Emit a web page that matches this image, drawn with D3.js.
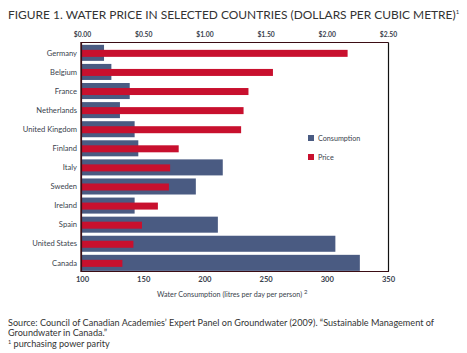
<!DOCTYPE html>
<html>
<head>
<meta charset="utf-8">
<script src="https://cdn.jsdelivr.net/npm/d3@7"></script>
<style>
  body { margin: 0; background: #fff; }
  svg { display: block; font-family: Lato, "Open Sans", sans-serif; }
</style>
</head>
<body>
<svg id="chart" width="467" height="353"></svg>
<script>
const countries = ["Germany", "Belgium", "France", "Netherlands", "United Kingdom", "Finland",
   "Italy", "Sweden", "Ireland", "Spain", "United States", "Canada"];
// litres per day per person
const consumption = [118, 124, 139, 131, 143, 146, 215, 193, 143, 211, 307, 327];
// dollars per cubic metre (PPP)
const price = [2.17, 1.56, 1.36, 1.32, 1.30, 0.79, 0.72, 0.71, 0.62, 0.49, 0.42, 0.33];
const priceTicks = [0, 0.5, 1, 1.5, 2, 2.5];
const consTicks = [100, 150, 200, 250, 300, 350];

const blue = "#4a5b82", red = "#c8102e", textCol = "#3a3f4d";
const plotL = 82, plotR = 388, plotT = 43, plotB = 271;

const svg = d3.select("#chart");

const x = d3.scaleLinear().domain([100, 350]).range([plotL, plotR]);
const xp = d3.scaleLinear().domain([0, 2.5]).range([plotL, plotR]);
const y = d3.scaleBand().domain(countries).range([43.3, 272.4])
   .paddingInner(0.16).paddingOuter(0.08);

// title
svg.append("text")
   .attr("x", 8).attr("y", 19)
   .attr("font-size", 11.95).attr("fill", "#333")
   .text("FIGURE 1. WATER PRICE IN SELECTED COUNTRIES (DOLLARS PER CUBIC METRE)")
   .append("tspan").attr("font-size", 6).attr("dy", -5).text("1");

// consumption bars
svg.append("g").selectAll("rect")
   .data(countries)
   .join("rect")
   .attr("x", plotL)
   .attr("y", d => y(d))
   .attr("width", (d, i) => x(consumption[i]) - plotL)
   .attr("height", y.bandwidth())
   .attr("fill", blue);

// price bars
const ph = 7;
svg.append("g").selectAll("rect")
   .data(countries)
   .join("rect")
   .attr("x", plotL)
   .attr("y", d => y(d) + y.bandwidth() / 2 - ph / 2 + 0.5)
   .attr("width", (d, i) => xp(price[i]) - plotL)
   .attr("height", ph)
   .attr("fill", red);

// frame
svg.append("line").attr("x1", 81.5).attr("x2", 388.5).attr("y1", plotT - 0.5).attr("y2", plotT - 0.5)
   .attr("stroke", "#3b0d14").attr("stroke-width", 1);
svg.append("line").attr("x1", 388.5).attr("x2", 388.5).attr("y1", plotT - 0.5).attr("y2", plotB + 0.5)
   .attr("stroke", "#111").attr("stroke-width", 1.2);
svg.append("line").attr("x1", 81).attr("x2", 389).attr("y1", plotB + 0.5).attr("y2", plotB + 0.5)
   .attr("stroke", "#3b0d14").attr("stroke-width", 1);
svg.append("line").attr("x1", 81.2).attr("x2", 81.2).attr("y1", plotT - 1).attr("y2", plotB + 1)
   .attr("stroke", "#3b0d14").attr("stroke-width", 1.8);

// country labels
svg.append("g").selectAll("text")
   .data(countries)
   .join("text")
   .attr("x", 77)
   .attr("y", d => y(d) + y.bandwidth() / 2)
   .attr("dy", "0.35em")
   .attr("text-anchor", "end")
   .attr("font-size", 7.6)
   .attr("fill", textCol)
   .text(d => d);

// top axis (price)
const topAxis = svg.append("g")
   .attr("transform", `translate(0,${plotT - 3.5})`)
   .call(d3.axisTop(xp).tickValues(priceTicks).tickSize(0).tickFormat(d3.format("$.2f")));
topAxis.select(".domain").remove();
topAxis.selectAll("text")
   .attr("font-size", 6.8).attr("font-weight", "bold").attr("fill", textCol)
   .attr("font-family", "Lato, sans-serif");

// bottom axis (consumption)
const botAxis = svg.append("g")
   .attr("transform", `translate(0,${plotB + 3})`)
   .call(d3.axisBottom(x).tickValues(consTicks).tickSize(0));
botAxis.select(".domain").remove();
botAxis.selectAll("text")
   .attr("font-size", 7.6).attr("font-weight", "bold").attr("fill", textCol)
   .attr("font-family", "Lato, sans-serif");

svg.append("text")
   .attr("x", 157).attr("y", 297)
   .attr("font-size", 7.2).attr("fill", textCol)
   .text("Water Consumption (litres per day per person) ")
   .append("tspan").attr("font-size", 6).attr("dy", -3).text("2");

// legend
const legend = [["Consumption", blue], ["Price", red]];
const lg = svg.append("g").selectAll("g")
   .data(legend)
   .join("g")
   .attr("transform", (d, i) => `translate(308,${135 + i * 19})`);
lg.append("rect").attr("width", 6).attr("height", 6).attr("fill", d => d[1]);
lg.append("text").attr("x", 10).attr("y", 3).attr("dy", "0.35em")
   .attr("font-size", 7.2).attr("fill", textCol).text(d => d[0]);

// source notes
const notes = svg.append("g").attr("font-size", 9.1).attr("fill", "#333");
notes.append("text").attr("x", 8).attr("y", 326)
   .text("Source: Council of Canadian Academies\u2019 Expert Panel on Groundwater (2009). \u201CSustainable Management of");
notes.append("text").attr("x", 8).attr("y", 336)
   .text("Groundwater in Canada.\u201D");
const fn = notes.append("text").attr("x", 8).attr("y", 346.5);
fn.append("tspan").attr("font-size", 5.5).attr("dy", -3).text("1");
fn.append("tspan").attr("dy", 3).text(" purchasing power parity");
</script>
</body>
</html>
